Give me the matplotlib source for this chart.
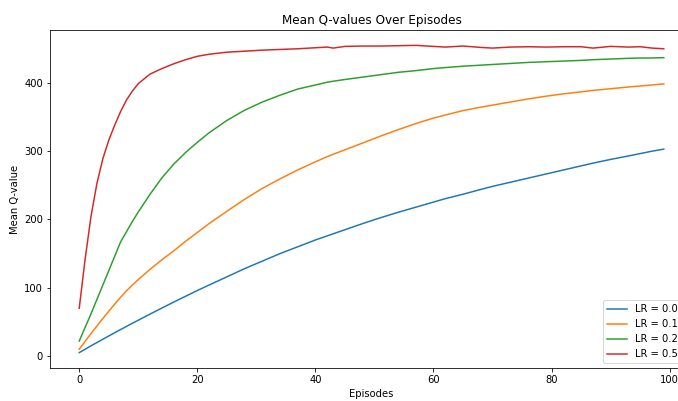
import matplotlib.pyplot as plt

episodes = [0, 1, 2, 3, 4, 5, 6, 7, 8, 9, 10, 11, 12, 14, 16, 18, 20, 22, 25, 28,
            31, 34, 37, 40, 42, 43, 45, 48, 51, 54, 57, 60, 62, 65, 68, 70, 73, 76,
            79, 82, 85, 87, 90, 93, 95, 97, 99]

q_lr001 = [5, 10, 15, 19.8, 24.6, 29.4, 34.1, 38.8, 43.4, 48, 52.5, 57, 61.5, 70.3,
           79, 87.5, 96, 104, 116, 128, 139, 150, 160, 170, 176, 179, 185, 194, 202.5,
           210.5, 218, 225.5, 230.5, 237, 244, 248.5, 254.5, 260.5, 266.5, 272.5, 278.5,
           282.5, 288, 293, 296.5, 300, 303]

q_lr01 = [10, 21.5, 33, 44, 55, 65.5, 76, 86, 95.5, 104, 112, 119.5, 127, 141, 154,
          168, 181, 194, 212, 229.5, 245.5, 259.5, 272.5, 284.5, 292, 295.5, 302, 312,
          322, 331.5, 340.5, 348.5, 353, 359.5, 364.5, 367.5, 372, 376.5, 380.5, 384, 387,
          389, 391.5, 394, 395.5, 397, 398.5]

q_lr02 = [22, 42, 62, 83, 104, 125, 146, 167, 182, 197, 211, 224, 237, 261, 281, 298,
          313, 327, 345, 360, 372, 382, 391, 397, 401, 402.5, 405, 408.5, 412, 415.5,
          418, 421, 422.5, 424.5, 426, 427, 428.5, 430, 431, 432, 433, 434, 435, 436,
          436.5, 436.5, 437]

q_lr05 = [70, 142, 205, 253, 289, 316, 338, 358, 375, 388, 399, 406, 413, 421, 428,
          434, 439, 442, 445, 446.5, 448, 449, 450, 451.5, 452.5, 451, 453.5, 454, 454,
          454.5, 455, 453.5, 452.5, 454, 452, 451, 452.5, 453, 452.5, 453, 453, 451,
          453.5, 452.5, 453, 451, 450]

labels = ['LR = 0.01', 'LR = 0.1', 'LR = 0.2', 'LR = 0.5']

fig = plt.figure(figsize=(678 / 72, 401 / 72), dpi=72)
# the screenshot cuts the right side of the axes off
ax = fig.add_axes([50 / 678, 33 / 401, 643 / 678, 338 / 401])

for q, lab in zip([q_lr001, q_lr01, q_lr02, q_lr05], labels):
    ax.plot(episodes, q, label=lab)

ax.set_title('Mean Q-values Over Episodes')
ax.set_xlabel('Episodes')
ax.set_ylabel('Mean Q-value')
ax.legend(loc='lower right')

fig.savefig('out.png', dpi=72)
